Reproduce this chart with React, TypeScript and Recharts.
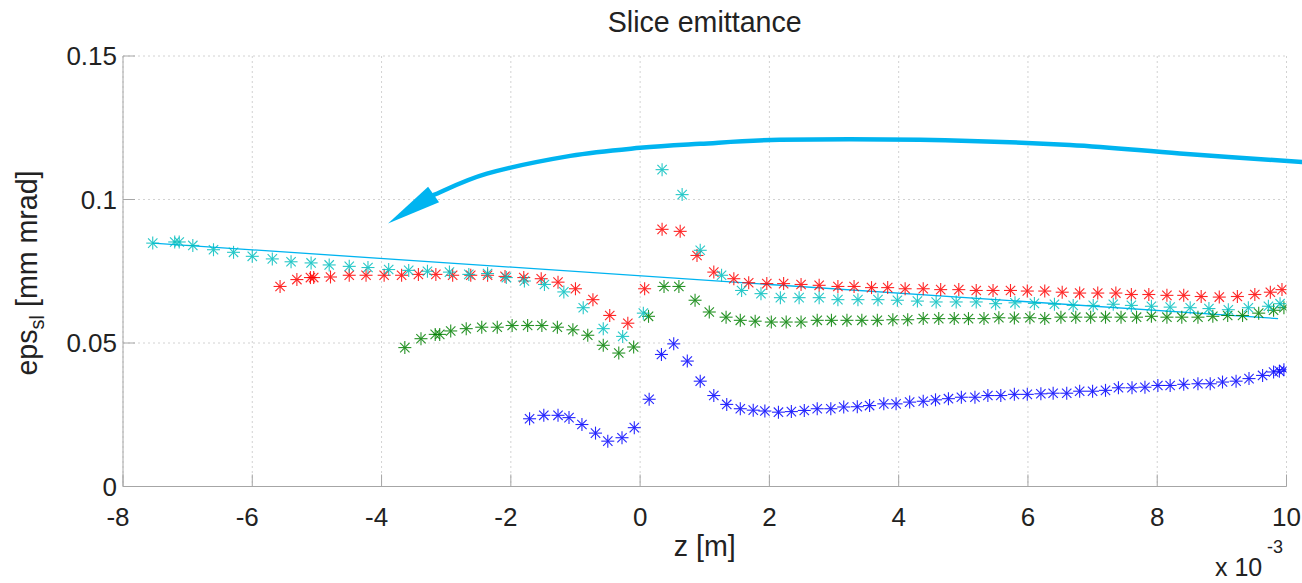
import { CartesianGrid, ReferenceLine, Scatter, ScatterChart, XAxis, YAxis } from 'recharts';

const W = 1302;
const H = 583;
const PLOT = { left: 123, right: 1286.5, top: 56, bottom: 486.5 };
const FONT = '"Liberation Sans", Arial, Helvetica, sans-serif';

const xTicks = [-8, -6, -4, -2, 0, 2, 4, 6, 8, 10];
const yTicks = [0, 0.05, 0.1, 0.15];

const blueX = [-1.71, -1.49, -1.27, -1.1, -0.9, -0.69, -0.5, -0.28, -0.09, 0.14, 0.33, 0.52, 0.73, 0.93, 1.14, 1.34, 1.55, 1.75, 1.93, 2.14, 2.34, 2.54, 2.74, 2.95, 3.15, 3.36, 3.55, 3.77, 3.96, 4.17, 4.38, 4.57, 4.77, 4.97, 5.18, 5.38, 5.58, 5.79, 5.99, 6.2, 6.39, 6.6, 6.8, 7.0, 7.2, 7.4, 7.61, 7.81, 8.01, 8.2, 8.41, 8.63, 8.82, 9.01, 9.22, 9.42, 9.63, 9.8, 9.89, 9.96];
const blueY = [0.0236, 0.0248, 0.0248, 0.024, 0.0216, 0.0186, 0.0158, 0.017, 0.0205, 0.0304, 0.046, 0.0497, 0.0437, 0.0367, 0.0317, 0.0286, 0.0271, 0.0266, 0.0263, 0.0259, 0.0261, 0.0265, 0.0271, 0.0271, 0.0277, 0.0278, 0.0282, 0.0288, 0.0288, 0.0294, 0.0297, 0.0302, 0.0306, 0.0311, 0.0311, 0.0317, 0.0317, 0.0321, 0.0321, 0.0323, 0.0325, 0.0325, 0.0332, 0.0332, 0.0335, 0.0344, 0.0344, 0.0346, 0.0352, 0.0352, 0.0356, 0.0358, 0.0358, 0.0364, 0.0367, 0.0376, 0.0387, 0.0399, 0.0402, 0.0407];

const greenX = [-3.64, -3.39, -3.17, -3.1, -2.93, -2.69, -2.45, -2.21, -1.98, -1.74, -1.52, -1.28, -1.04, -0.81, -0.57, -0.33, -0.1, 0.13, 0.37, 0.6, 0.85, 1.07, 1.33, 1.55, 1.78, 2.03, 2.26, 2.49, 2.74, 2.96, 3.2, 3.43, 3.67, 3.91, 4.14, 4.38, 4.62, 4.86, 5.08, 5.32, 5.55, 5.79, 6.03, 6.26, 6.51, 6.74, 6.97, 7.2, 7.44, 7.68, 7.91, 8.15, 8.38, 8.63, 8.86, 9.09, 9.32, 9.57, 9.8, 9.96];
const greenY = [0.0484, 0.0515, 0.053, 0.053, 0.0542, 0.055, 0.0555, 0.0555, 0.0561, 0.0561, 0.0561, 0.0555, 0.0546, 0.0527, 0.0492, 0.0465, 0.0486, 0.0593, 0.0697, 0.0697, 0.0649, 0.0608, 0.059, 0.0579, 0.0576, 0.0573, 0.0573, 0.0573, 0.0579, 0.0579, 0.0579, 0.0579, 0.0579, 0.0581, 0.0581, 0.0585, 0.0585, 0.0585, 0.0585, 0.0585, 0.0588, 0.0587, 0.0588, 0.0585, 0.059, 0.059, 0.059, 0.059, 0.059, 0.059, 0.0593, 0.059, 0.059, 0.059, 0.0593, 0.0596, 0.0596, 0.0604, 0.0614, 0.0623];

const redX = [-5.57, -5.31, -5.1, -5.05, -4.79, -4.5, -4.24, -3.96, -3.69, -3.43, -3.16, -2.9, -2.62, -2.36, -2.09, -1.8, -1.53, -1.27, -1.0, -0.73, -0.47, -0.19, 0.07, 0.34, 0.62, 0.88, 1.14, 1.45, 1.68, 1.96, 2.22, 2.49, 2.77, 3.06, 3.31, 3.58, 3.83, 4.1, 4.38, 4.65, 4.93, 5.2, 5.46, 5.73, 5.99, 6.26, 6.53, 6.8, 7.08, 7.36, 7.6, 7.87, 8.15, 8.41, 8.68, 8.96, 9.24, 9.51, 9.75, 9.93];
const redY = [0.0697, 0.0721, 0.0728, 0.0728, 0.073, 0.0736, 0.0736, 0.0736, 0.0736, 0.0739, 0.0739, 0.0736, 0.0736, 0.0736, 0.0732, 0.0728, 0.0724, 0.0712, 0.0689, 0.0651, 0.0596, 0.0569, 0.0689, 0.0896, 0.0889, 0.0805, 0.0747, 0.0724, 0.071, 0.0707, 0.0707, 0.0704, 0.0701, 0.0697, 0.0697, 0.0693, 0.0693, 0.0689, 0.0689, 0.0686, 0.0686, 0.0683, 0.0683, 0.0683, 0.0681, 0.0681, 0.0677, 0.0674, 0.0674, 0.0674, 0.0669, 0.0669, 0.0666, 0.0666, 0.0662, 0.066, 0.0662, 0.0669, 0.0677, 0.0686];

const cyanX = [-7.54, -7.2, -7.13, -6.92, -6.6, -6.29, -6.0, -5.69, -5.4, -5.09, -4.81, -4.5, -4.21, -3.89, -3.58, -3.29, -2.95, -2.65, -2.36, -2.07, -1.79, -1.48, -1.18, -0.88, -0.57, -0.27, 0.05, 0.34, 0.65, 0.93, 1.26, 1.57, 1.87, 2.17, 2.46, 2.77, 3.06, 3.37, 3.68, 3.98, 4.29, 4.58, 4.89, 5.2, 5.5, 5.8, 6.1, 6.41, 6.7, 7.01, 7.32, 7.6, 7.91, 8.2, 8.51, 8.8, 9.1, 9.41, 9.72, 9.9];
const cyanY = [0.0848, 0.0852, 0.0852, 0.084, 0.0825, 0.0816, 0.0802, 0.0793, 0.0783, 0.0779, 0.0772, 0.0767, 0.0763, 0.0756, 0.0753, 0.075, 0.0747, 0.0739, 0.0742, 0.0728, 0.0716, 0.0704, 0.0678, 0.0623, 0.055, 0.0523, 0.0604, 0.1104, 0.1017, 0.0823, 0.0736, 0.0683, 0.0672, 0.0658, 0.0658, 0.0658, 0.0651, 0.0651, 0.0651, 0.0649, 0.0646, 0.0643, 0.0643, 0.0643, 0.0637, 0.064, 0.0638, 0.0635, 0.0631, 0.0631, 0.0635, 0.0631, 0.0628, 0.0625, 0.0623, 0.062, 0.0616, 0.0623, 0.0628, 0.0637];

// straight fit line, end points
const fitX = [-7.54, 9.87];
const fitY = [0.0848, 0.0585];

// hand drawn arrow annotation (data coords), from head to tail
const arrowX = [-3.19, -2.37, -1.08, 0.0, 0.93, 2.16, 4.33, 6.65, 8.35, 10.24];
const arrowY = [0.1016, 0.109, 0.1152, 0.118, 0.1194, 0.1208, 0.1208, 0.119, 0.116, 0.1131];
const headX = [-3.9, -3.28, -3.11];
const headY = [0.0916, 0.1044, 0.099];

const ANNOT = '#00b4f0';

const pts = (xs: number[], ys: number[]) => xs.map((x, i) => ({ x, y: ys[i] }));

const px = (x: number) => PLOT.left + ((x + 8) / 18) * (PLOT.right - PLOT.left);
const py = (y: number) => PLOT.bottom - (y / 0.15) * (PLOT.bottom - PLOT.top);

function smoothPath(xs: number[], ys: number[]) {
  const p = xs.map((x, i) => [px(x), py(ys[i])]);
  let d = `M${p[0][0]},${p[0][1]}`;
  for (let i = 0; i < p.length - 1; i++) {
    const p0 = p[i - 1] ?? p[i];
    const p1 = p[i];
    const p2 = p[i + 1];
    const p3 = p[i + 2] ?? p2;
    const c1x = p1[0] + (p2[0] - p0[0]) / 6;
    const c1y = p1[1] + (p2[1] - p0[1]) / 6;
    const c2x = p2[0] - (p3[0] - p1[0]) / 6;
    const c2y = p2[1] - (p3[1] - p1[1]) / 6;
    d += ` C${c1x},${c1y} ${c2x},${c2y} ${p2[0]},${p2[1]}`;
  }
  return d;
}

function star(color: string) {
  return (props: any) => {
    const { cx, cy } = props;
    if (cx == null || cy == null) return <g />;
    const r = 6.5;
    const d = r * 0.72;
    return (
      <g stroke={color} strokeWidth={1.1} opacity={0.85}>
        <line x1={cx - r} y1={cy} x2={cx + r} y2={cy} />
        <line x1={cx} y1={cy - r} x2={cx} y2={cy + r} />
        <line x1={cx - d} y1={cy - d} x2={cx + d} y2={cy + d} />
        <line x1={cx - d} y1={cy + d} x2={cx + d} y2={cy - d} />
      </g>
    );
  };
}

function XTick(props: any) {
  const { x, y, payload } = props;
  const v = payload.value as number;
  return (
    <g>
      <line x1={x} x2={x} y1={y} y2={y - 12} stroke="#a6a6a6" />
      <text x={x} y={y + 39} dx={v < 0 ? -5 : 0} textAnchor="middle" fontSize={26} fontFamily={FONT} fill="#222">
        {String(v)}
      </text>
    </g>
  );
}

function YTick(props: any) {
  const { x, y, payload } = props;
  const v = payload.value as number;
  return (
    <g>
      <line x1={x} x2={x + 12} y1={y} y2={y} stroke="#a6a6a6" />
      <text x={x - 6} y={y + 9} textAnchor="end" fontSize={26} fontFamily={FONT} fill="#222">
        {String(v)}
      </text>
    </g>
  );
}

export default function App() {
  const head = headX.map((x, i) => `${px(x)},${py(headY[i])}`).join(' ');
  return (
    <div style={{ position: 'absolute', left: 0, top: 0, width: W, height: H, background: '#fff' }}>
      <ScatterChart
        width={W}
        height={H}
        margin={{ top: PLOT.top, right: W - PLOT.right, bottom: H - PLOT.bottom - 30, left: PLOT.left - 60 }}
      >
        <CartesianGrid stroke="#d2d2d2" strokeDasharray="2 3" />
        <XAxis
          type="number"
          dataKey="x"
          domain={[-8, 10]}
          ticks={xTicks}
          allowDataOverflow
          height={30}
          tickSize={0}
          tickMargin={0}
          axisLine={{ stroke: '#a6a6a6' }}
          tickLine={false}
          tick={(p: any) => <XTick {...p} />}
        />
        <YAxis
          type="number"
          dataKey="y"
          domain={[0, 0.15]}
          ticks={yTicks}
          allowDataOverflow
          width={60}
          tickSize={0}
          tickMargin={0}
          axisLine={{ stroke: '#a6a6a6' }}
          tickLine={false}
          tick={(p: any) => <YTick {...p} />}
        />
        <Scatter data={pts(blueX, blueY)} shape={star('#0000ff')} isAnimationActive={false} />
        <Scatter data={pts(greenX, greenY)} shape={star('#008000')} isAnimationActive={false} />
        <Scatter data={pts(redX, redY)} shape={star('#ff0000')} isAnimationActive={false} />
        <Scatter data={pts(cyanX, cyanY)} shape={star('#00bfbf')} isAnimationActive={false} />
        <ReferenceLine
          segment={[
            { x: fitX[0], y: fitY[0] },
            { x: fitX[1], y: fitY[1] },
          ]}
          stroke={ANNOT}
          strokeWidth={1.3}
          ifOverflow="visible"
        />
      </ScatterChart>
      <svg width={W} height={H} style={{ position: 'absolute', left: 0, top: 0, pointerEvents: 'none' }}>
        <path d={smoothPath(arrowX, arrowY)} fill="none" stroke={ANNOT} strokeWidth={4.5} strokeLinecap="round" />
        <polygon points={head} fill={ANNOT} />
        <text x={(PLOT.left + PLOT.right) / 2} y={32} textAnchor="middle" fontSize={28.6} fontFamily={FONT} fill="#222">
          Slice emittance
        </text>
        <text x={(PLOT.left + PLOT.right) / 2} y={556} textAnchor="middle" fontSize={28.6} fontFamily={FONT} fill="#222">
          z [m]
        </text>
        <text transform="translate(37,273) rotate(-90)" textAnchor="middle" fontSize={28.6} fontFamily={FONT} fill="#222">
          eps
          <tspan fontSize={20} dy={7}>sl</tspan>
          <tspan dy={-7}> [mm mrad]</tspan>
        </text>
        <text x={1215} y={576} fontSize={25} fontFamily={FONT} fill="#222">
          x 10
        </text>
        <text x={1267} y={553} fontSize={18} fontFamily={FONT} fill="#222">
          -3
        </text>
      </svg>
    </div>
  );
}
